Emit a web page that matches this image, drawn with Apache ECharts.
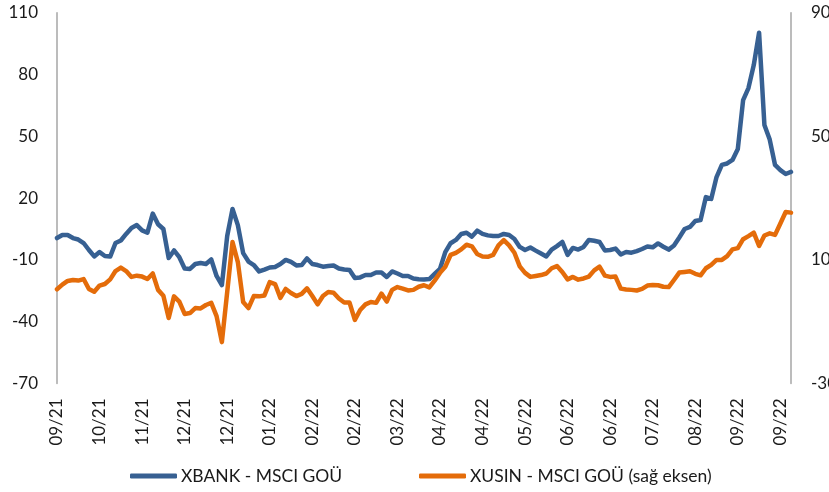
<!DOCTYPE html>
<html>
<head>
<meta charset="utf-8">
<script src="https://cdn.jsdelivr.net/npm/echarts@6/dist/echarts.min.js"></script>
<style>
html,body{margin:0;padding:0;background:#fff;}
#chart{width:829px;height:492px;}
</style>
</head>
<body>
<div id="chart"></div>
<script>
// Tick labels shown every 8th point on the x axis
var tickLabels = ['09/21','10/21','11/21','12/21','12/21','01/22','02/22','02/22','03/22','04/22','04/22','05/22','06/22','06/22','07/22','08/22','09/22','09/22'];
var labelEvery = 8;

// XBANK - MSCI GOÜ (left axis)
var xbank = [
  0.6, 2.1, 2.1, 0.6, -0.1, -1.8, -5.2, -8.3, -6.2, -8.1,
  -8.4, -1.8, -0.6, 2.6, 5.5, 6.9, 4.3, 3.2, 12.5, 7.3,
  5.0, -9.1, -5.4, -8.7, -14.2, -14.4, -12.0, -11.5, -12.0, -9.8,
  -17.8, -22.2, 1.6, 14.7, 6.9, -6.7, -10.8, -12.5, -15.6, -14.7,
  -13.7, -13.4, -12.0, -10.0, -11.0, -12.7, -12.5, -9.3, -12.0, -12.5,
  -13.3, -13.0, -12.7, -14.2, -14.7, -14.9, -18.8, -18.5, -17.3, -17.3,
  -16.1, -16.1, -18.3, -15.6, -16.6, -17.8, -17.8, -19.0, -19.4, -19.5,
  -19.3, -16.8, -14.4, -6.2, -1.9, -0.3, 2.6, 3.2, 1.3, 4.2,
  2.6, 1.9, 1.6, 1.6, 2.6, 2.1, 0.1, -3.7, -5.2, -4.0,
  -5.5, -6.9, -8.3, -5.0, -3.3, -1.3, -7.6, -4.2, -5.0, -3.7,
  -0.3, -0.7, -1.3, -5.4, -5.2, -4.5, -7.4, -6.2, -6.5, -5.7,
  -4.7, -3.5, -3.9, -2.0, -3.6, -5.0, -3.0, 0.9, 5.0, 6.0,
  8.9, 9.4, 20.5, 19.6, 30.2, 36.1, 36.8, 38.5, 43.8, 67.6,
  73.4, 84.6, 100.3, 55.5, 48.4, 36.1, 33.6, 31.7, 32.7
];

// XUSIN - MSCI GOÜ (right axis)
var xusin = [
  0.5, 2.0, 3.2, 3.5, 3.3, 3.8, 0.6, -0.3, 1.7, 2.2,
  3.7, 6.4, 7.5, 6.4, 4.5, 4.9, 4.6, 3.8, 5.6, 0.3,
  -1.6, -8.8, -1.8, -3.5, -7.5, -7.2, -5.6, -5.7, -4.6, -3.9,
  -8.2, -16.6, -0.4, 15.8, 9.3, -3.6, -5.6, -1.7, -1.8, -1.5,
  2.8, 2.2, -2.3, 0.6, -0.7, -1.7, -1.0, 0.8, -1.7, -4.4,
  -1.7, -0.4, -0.6, -2.5, -3.8, -3.8, -9.4, -6.2, -4.4, -3.6,
  -3.9, -0.9, -3.5, 0.3, 1.2, 0.7, 0.1, 0.3, 1.3, 1.8,
  1.1, 3.3, 5.8, 7.8, 11.6, 12.3, 13.4, 14.9, 14.4, 11.9,
  11.1, 11.0, 11.6, 14.7, 16.4, 14.7, 12.3, 7.9, 5.8, 4.5,
  4.8, 5.1, 5.6, 7.3, 8.0, 6.1, 3.7, 4.5, 3.6, 4.0,
  4.6, 6.6, 7.8, 4.9, 4.5, 4.6, 0.7, 0.4, 0.3, 0.1,
  0.6, 1.7, 1.9, 1.8, 1.3, 1.2, 3.5, 5.9, 6.1, 6.3,
  5.5, 5.0, 7.3, 8.4, 10.0, 10.0, 11.2, 13.4, 13.8, 16.7,
  17.7, 18.8, 14.5, 17.9, 18.6, 18.1, 21.8, 25.5, 25.3
];

var seriesNames = ['XBANK - MSCI GOÜ', 'XUSIN - MSCI GOÜ (sağ eksen)'];

var categories = xbank.map(function (_, i) { return String(i); });

var FONT = 'Lato';
var TXT = '#1a1a1a';
var AXIS = '#a6a6a6';

var chart = echarts.init(document.getElementById('chart'), null, {renderer: 'canvas'});
chart.setOption({
  animation: false,
  backgroundColor: '#ffffff',
  textStyle: {fontFamily: FONT},
  grid: {left: 57, right: 38, top: 12.7, bottom: 108.5, containLabel: false, outerBoundsMode: 'none'},
  legend: [
    {
      data: [seriesNames[0]], left: 130, top: 467, padding: 0,
      icon: 'roundRect', itemWidth: 47, itemHeight: 5, itemGap: 0,
      textStyle: {fontFamily: FONT, fontSize: 17.5, color: TXT, padding: [0, 0, 0, -1]}
    },
    {
      data: [seriesNames[1]], left: 419, top: 467, padding: 0,
      icon: 'roundRect', itemWidth: 47, itemHeight: 5, itemGap: 0,
      textStyle: {fontFamily: FONT, fontSize: 17.5, color: TXT, padding: [0, 0, 0, -1]}
    }
  ],
  xAxis: {
    type: 'category',
    data: categories,
    boundaryGap: false,
    axisLine: {show: false},
    axisTick: {show: false},
    splitLine: {show: false},
    axisLabel: {
      interval: labelEvery - 1,
      rotate: 90,
      margin: 15,
      fontFamily: FONT,
      fontSize: 17,
      color: TXT,
      formatter: function (v, idx) {
        return idx % labelEvery === 0 ? (tickLabels[idx / labelEvery] || '') : '';
      }
    }
  },
  yAxis: [
    {
      type: 'value', min: -70, max: 110, interval: 30, position: 'left',
      axisLine: {show: true, lineStyle: {color: AXIS, width: 1.5}},
      axisTick: {show: false},
      splitLine: {show: false},
      axisLabel: {margin: 19, fontFamily: FONT, fontSize: 17, color: TXT}
    },
    {
      type: 'value', min: -30, max: 90, interval: 40, position: 'right',
      axisLine: {show: true, lineStyle: {color: AXIS, width: 1.5}},
      axisTick: {show: false},
      splitLine: {show: false},
      axisLabel: {margin: 20, fontFamily: FONT, fontSize: 17, color: TXT}
    }
  ],
  series: [
    {
      name: seriesNames[0], type: 'line', yAxisIndex: 0, data: xbank,
      showSymbol: false, symbol: 'none', smooth: false,
      lineStyle: {color: '#376092', width: 4.5, cap: 'round', join: 'round'},
      itemStyle: {color: '#376092'}, z: 2
    },
    {
      name: seriesNames[1], type: 'line', yAxisIndex: 1, data: xusin,
      showSymbol: false, symbol: 'none', smooth: false,
      lineStyle: {color: '#e46c0a', width: 4.5, cap: 'round', join: 'round'},
      itemStyle: {color: '#e46c0a'}, z: 3
    }
  ]
});
</script>
</body>
</html>
